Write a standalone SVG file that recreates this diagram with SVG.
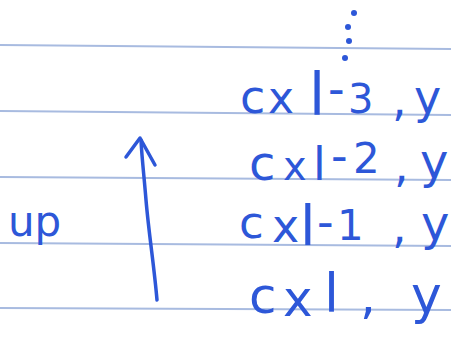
<svg xmlns="http://www.w3.org/2000/svg" width="451" height="343" viewBox="0 0 451 343">
<style>
.rule{stroke:#a8bbe0;stroke-width:2;fill:none}
.ink{fill:#2d57d8;font-family:"DejaVu Sans",sans-serif}
.pen{stroke:#2d57d8;stroke-width:3.5;fill:none;stroke-linecap:round;stroke-linejoin:round}
</style>
<rect width="451" height="343" fill="#ffffff"/>
<g id="paper">
<line class="rule" x1="0" y1="45" x2="451" y2="49"/>
<line class="rule" x1="0" y1="111" x2="451" y2="115"/>
<line class="rule" x1="0" y1="177" x2="451" y2="180"/>
<line class="rule" x1="0" y1="243" x2="451" y2="246"/>
<line class="rule" x1="0" y1="308" x2="451" y2="310"/>
</g>
<g id="dots" fill="#2d57d8">
<circle cx="354" cy="13" r="3"/>
<circle cx="348" cy="27" r="3"/>
<circle cx="349" cy="41" r="3"/>
<circle cx="345" cy="58" r="3"/>
</g>
<g id="row-3" class="ink">
<text x="240" y="113" font-size="46">c</text>
<text x="268" y="113" font-size="44">x</text>
<text x="309" y="115" font-size="58">l</text>
<text x="328" y="105" font-size="46">-</text>
<text x="348" y="113" font-size="40">3</text>
<text x="392" y="116" font-size="46">,</text>
<text x="414" y="113" font-size="46">y</text>
</g>
<g id="row-2" class="ink">
<text x="249" y="180" font-size="48">c</text>
<text x="283" y="180" font-size="40">x</text>
<text x="313" y="180" font-size="46">l</text>
<text x="331" y="172" font-size="46">-</text>
<text x="353" y="173" font-size="42">2</text>
<text x="394" y="182" font-size="46">,</text>
<text x="420" y="178" font-size="48">y</text>
</g>
<g id="row-1" class="ink">
<text x="239" y="238" font-size="45">c</text>
<text x="272" y="242" font-size="46">x</text>
<text x="300" y="245" font-size="56">l</text>
<text x="317" y="238" font-size="46">-</text>
<text x="337" y="240" font-size="42">1</text>
<text x="392" y="243" font-size="46">,</text>
<text x="421" y="240" font-size="48">y</text>
</g>
<g id="row-0" class="ink">
<text x="249" y="313" font-size="50">c</text>
<text x="283" y="316" font-size="50">x</text>
<text x="324" y="312" font-size="54">l</text>
<text x="360" y="313" font-size="50">,</text>
<text x="411" y="313" font-size="52">y</text>
</g>
<g id="label-up" class="ink">
<text x="8" y="236" font-size="42">up</text>
</g>
<g id="connectors">
<path class="pen" d="M157,300 C154,265 149,235 146,200 C144,175 142,160 141,140"/>
<polyline class="pen" points="126,157 140,138 155,165"/>
</g>
</svg>
